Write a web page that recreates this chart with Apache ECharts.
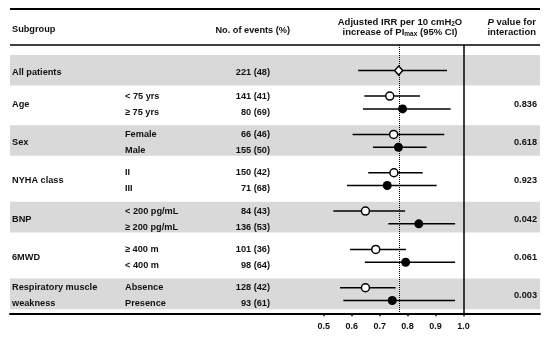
<!DOCTYPE html>
<html><head><meta charset="utf-8">
<script src="https://cdn.jsdelivr.net/npm/echarts@6/dist/echarts.min.js"></script>
<style>html,body{margin:0;padding:0;background:#fff}#c{width:550px;height:339px}</style>
</head><body><div id="c"></div><script>
// ---- data ----
const groups = ["All patients", "Age", "Sex", "NYHA class", "BNP", "6MWD", "Respiratory muscle\nweakness"];
const subgroups = [[""], ["< 75 yrs", "≥ 75 yrs"], ["Female", "Male"], ["II", "III"], ["< 200 pg/mL", "≥ 200 pg/mL"], ["≥ 400 m", "< 400 m"], ["Absence", "Presence"]];
const events = [["221 (48)"], ["141 (41)", "80 (69)"], ["66 (46)", "155 (50)"], ["150 (42)", "71 (68)"], ["84 (43)", "136 (53)"], ["101 (36)", "98 (64)"], ["128 (42)", "93 (61)"]];
const irr = [[0.768], [0.736, 0.782], [0.750, 0.767], [0.751, 0.727], [0.649, 0.840], [0.686, 0.793], [0.649, 0.745]];
const ciLow = [[0.623], [0.645, 0.640], [0.603, 0.676], [0.659, 0.583], [0.534, 0.731], [0.594, 0.647], [0.558, 0.570]];
const ciHigh = [[0.941], [0.844, 0.954], [0.931, 0.868], [0.854, 0.904], [0.791, 0.970], [0.794, 0.970], [0.757, 0.970]];
const pInteraction = ["", "0.836", "0.618", "0.923", "0.042", "0.061", "0.003"];
const shaded = [true, false, true, false, true, false, true];
const refIRR = 0.768;
const xMin = 0.5, xMax = 1.0, xStep = 0.1;

// ---- layout helpers (row positions on a hidden ordinal y scale) ----
const groupPos = g => g === 0 ? 0 : 5 + 6 * (g - 1);
const markOff = (n, i) => n === 1 ? 0 : (i === 0 ? -1 : 1);
const textOff = (n, i) => n === 1 ? 0 : (i === 0 ? -1.25 : 1.25);

const FONT = "'Liberation Sans', Arial, sans-serif";
const TXT = '#111';

const ciData = [], diamondData = [], openData = [], filledData = [], bands = [];
groups.forEach((g, gi) => {
  const n = irr[gi].length;
  irr[gi].forEach((v, i) => {
    const y = groupPos(gi) + markOff(n, i);
    ciData.push([ciLow[gi][i], ciHigh[gi][i], y]);
    if (gi === 0) diamondData.push([v, y]);
    else if (i === 0) openData.push([v, y]);
    else filledData.push([v, y]);
  });
  if (shaded[gi]) {
    const c = groupPos(gi);
    bands.push([{ xAxis: 0, yAxis: c - 2.45 }, { xAxis: 1, yAxis: c + 2.35 }]);
  }
});

const chart = echarts.init(document.getElementById('c'), null, { renderer: 'canvas' });
const yAx = (gi) => ({ type: 'value', gridIndex: gi, inverse: true, min: -4, max: 38, show: false });
chart.setOption({
  animation: false,
  textStyle: { fontFamily: FONT },
  grid: [
    { left: 10, width: 530, top: 45, height: 268.3 },
    { left: 323.8, width: 139.7, top: 45, height: 268.3 }
  ],
  xAxis: [
    { type: 'value', gridIndex: 0, min: 0, max: 1, position: 'bottom',
      axisLine: { show: true, onZero: false, lineStyle: { color: '#000', width: 2 } },
      axisTick: { show: false }, axisLabel: { show: false }, splitLine: { show: false } },
    { type: 'value', gridIndex: 1, min: xMin, max: xMax, interval: xStep, position: 'bottom',
      axisLine: { show: true, onZero: false, lineStyle: { color: '#000', width: 2 } },
      axisTick: { show: true, length: 3, lineStyle: { color: '#000', width: 1.5 } },
      axisLabel: { show: true, color: '#111', fontSize: 9, fontWeight: 'bold', margin: 9, fontFamily: FONT,
        formatter: v => v.toFixed(1) },
      splitLine: { show: false } }
  ],
  yAxis: [yAx(0), yAx(1)],
  series: [
    { type: 'scatter', xAxisIndex: 0, yAxisIndex: 0, data: [], z: 0, silent: true,
      markArea: { silent: true, itemStyle: { color: '#d9d9d9' }, data: bands } },
    { type: 'custom', xAxisIndex: 1, yAxisIndex: 1, z: 3, data: ciData,
      encode: { x: [0, 1], y: 2 },
      renderItem: (params, api) => {
        const a = api.coord([api.value(0), api.value(2)]);
        const b = api.coord([api.value(1), api.value(2)]);
        return { type: 'line', shape: { x1: a[0], y1: a[1], x2: b[0], y2: b[1] },
          style: { stroke: '#000', lineWidth: 1.5 } };
      },
      markLine: { silent: true, symbol: 'none', label: { show: false },
        data: [
          { xAxis: refIRR, lineStyle: { type: 'dotted', color: '#000', width: 1 } },
          { xAxis: xMax, lineStyle: { type: 'solid', color: '#000', width: 1.5 } }
        ] } },
    { type: 'scatter', xAxisIndex: 1, yAxisIndex: 1, z: 5, data: diamondData, symbol: 'diamond', symbolSize: [8, 9],
      itemStyle: { color: '#fff', borderColor: '#000', borderWidth: 1.5, opacity: 1 } },
    { type: 'scatter', xAxisIndex: 1, yAxisIndex: 1, z: 5, data: openData, symbol: 'circle', symbolSize: 8,
      itemStyle: { color: '#fff', borderColor: '#000', borderWidth: 1.5, opacity: 1 } },
    { type: 'scatter', xAxisIndex: 1, yAxisIndex: 1, z: 5, data: filledData, symbol: 'circle', symbolSize: 9,
      itemStyle: { color: '#000', borderColor: '#000', borderWidth: 0, opacity: 1 } }
  ]
});

// ---- table text ----
const py = v => chart.convertToPixel({ yAxisIndex: 0 }, v);
const txt = (x, y, text, align, extra) => Object.assign({
  type: 'text', x: x, y: y, silent: true, z: 10,
  style: Object.assign({ text: text, fill: TXT, fontSize: 9.2, fontWeight: 'bold', fontFamily: FONT,
    align: align, verticalAlign: 'middle' }, extra || {})
});
const g = [];
g.push({ type: 'line', silent: true, shape: { x1: 10, y1: 9, x2: 540, y2: 9 }, style: { stroke: '#000', lineWidth: 2 } });
g.push({ type: 'line', silent: true, shape: { x1: 10, y1: 45, x2: 540, y2: 45 }, style: { stroke: '#000', lineWidth: 1.5 } });
g.push(txt(12, 29, 'Subgroup', 'left'));
g.push(txt(290, 30, 'No. of events (%)', 'right'));
const rb = { b: { fontSize: 9.5, fontWeight: 'bold', fill: TXT, fontFamily: FONT, lineHeight: 11 },
  s: { fontSize: 6.5, fontWeight: 'bold', fill: TXT, fontFamily: FONT, verticalAlign: 'bottom', padding: [3, 0, 0, 0] },
  i: { fontSize: 9.5, fontWeight: 'bold', fontStyle: 'italic', fill: TXT, fontFamily: FONT, lineHeight: 11 } };
g.push(txt(400, 22, '{b|Adjusted IRR per 10 cmH}{s|2}{b|O}', 'center', { rich: rb }));
g.push(txt(400, 32, '{b|increase of PI}{s|max}{b| (95% CI)}', 'center', { rich: rb }));
g.push(txt(536, 22, '{i|P}{b| value for}', 'right', { rich: rb }));
g.push(txt(536, 32, 'interaction', 'right', { fontSize: 9.5 }));

groups.forEach((name, gi) => {
  const c = groupPos(gi);
  const n = subgroups[gi].length;
  g.push(txt(12, py(c) + 1.5, name, 'left', { lineHeight: 16 }));
  subgroups[gi].forEach((s, i) => {
    const y = py(c + textOff(n, i)) + 1.5;
    if (s) g.push(txt(125, y, s, 'left'));
    g.push(txt(270, y, events[gi][i], 'right'));
  });
  if (pInteraction[gi]) g.push(txt(537, py(c) + 1.5, pInteraction[gi], 'right'));
});
chart.setOption({ graphic: g });
</script></body></html>
